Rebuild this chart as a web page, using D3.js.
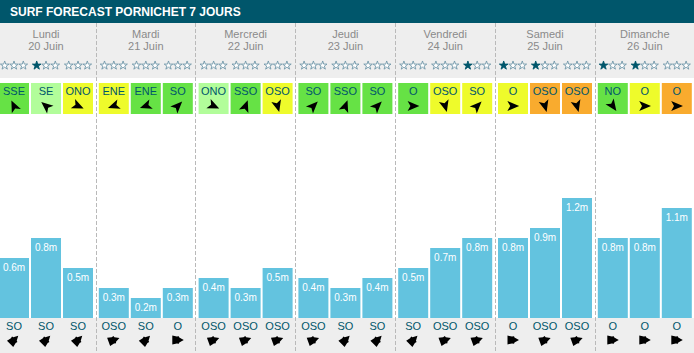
<!DOCTYPE html>
<html>
<head>
<meta charset="utf-8">
<script src="https://cdn.jsdelivr.net/npm/d3@7"></script>
<style>
  html, body { margin: 0; padding: 0; background: #fff; overflow: hidden; }
  text { font-family: "Liberation Sans", Arial, sans-serif; }
</style>
</head>
<body>
<div id="container"></div>
<script>
const title = 'SURF FORECAST PORNICHET 7 JOURS'
const dayNames = ['Lundi', 'Mardi', 'Mercredi', 'Jeudi', 'Vendredi', 'Samedi', 'Dimanche']
const dayDates = ['20 Juin', '21 Juin', '22 Juin', '23 Juin', '24 Juin', '25 Juin', '26 Juin']
const slots = [0, 1, 2]

// one row per day, one entry per slot
const stars = [[0, 1, 0], [0, 0, 0], [0, 0, 0], [0, 0, 0], [0, 0, 1], [1, 1, 0], [1, 1, 0]]
const windDir = [
    ['SSE', 'SE', 'ONO'], ['ENE', 'ENE', 'SO'], ['ONO', 'SSO', 'OSO'], ['SO', 'SSO', 'SO'],
    ['O', 'OSO', 'SO'], ['O', 'OSO', 'OSO'], ['NO', 'O', 'O']
]
// g = green, l = light green, y = yellow, o = orange
const windLevel = [
    ['g', 'l', 'y'], ['y', 'g', 'g'], ['l', 'g', 'y'], ['g', 'g', 'g'],
    ['g', 'y', 'y'], ['y', 'o', 'o'], ['g', 'y', 'o']
]
const waveHeight = [
    [0.6, 0.8, 0.5], [0.3, 0.2, 0.3], [0.4, 0.3, 0.5], [0.4, 0.3, 0.4],
    [0.5, 0.7, 0.8], [0.8, 0.9, 1.2], [0.8, 0.8, 1.1]
]
const swellDir = [
    ['SO', 'SO', 'SO'], ['OSO', 'SO', 'O'], ['OSO', 'OSO', 'OSO'], ['OSO', 'SO', 'SO'],
    ['SO', 'OSO', 'OSO'], ['O', 'OSO', 'OSO'], ['O', 'O', 'O']
]

const levelColor = { g: '#66e245', l: '#b2fd9a', y: '#eefb2b', o: '#f9ab2e' }
const windAngle = { SSE: -25, SE: -50, ONO: 115, ENE: -110, SO: 45, SSO: 20, OSO: 165, O: 90, NO: 145 }
const swellAngle = { SO: 45, OSO: 70, O: 90 }

const width = 694
const height = 353
const headerH = 23
const bandBottom = 78
const barBottom = 318
const dark = '#00566b'

const svg = d3.select('#container').append('svg')
    .attr('width', width).attr('height', height)
    .style('display', 'block')

const xDay = d3.scaleBand()
    .domain(d3.range(dayNames.length))
    .range([-1, 697.6])
const xSlot = d3.scaleBand()
    .domain(slots)
    .range([0, 94])
    .paddingInner(0.0625)
const yScale = d3.scaleLinear().domain([0, 1]).range([barBottom, barBottom - 100])

const starPath = d3.symbol(d3.symbolStar, 23)()
const windArrow = 'M0,-6.2 L5,5.6 L0,2.8 L-5,5.6 Z'
// narrow head, square body, small shoulders at the back
const swellArrow = 'M0,-6 L2.4,-1.5 L3.8,-1 L3.4,1 L4.4,5.5 L-4.4,5.5 L-3.4,1 L-3.8,-1 L-2.4,-1.5 Z'

// bands
svg.append('rect').attr('width', width).attr('height', bandBottom).attr('fill', '#eeeeee')
svg.append('rect').attr('y', barBottom).attr('width', width).attr('height', height - barBottom).attr('fill', '#eeeeee')
svg.append('rect').attr('width', width).attr('height', headerH).attr('fill', dark)
svg.append('text').attr('x', 10).attr('y', 15.5)
    .attr('fill', '#fff').attr('font-size', 12).attr('font-weight', 'bold')
    .text(title)

const days = svg.selectAll('g.day').data(d3.range(dayNames.length)).enter().append('g')
    .attr('class', 'day')
    .attr('transform', d => `translate(${xDay(d)},0)`)

days.append('text').attr('x', 47).attr('y', 38)
    .attr('text-anchor', 'middle').attr('fill', '#8a8a8a').attr('font-size', 11)
    .text(d => dayNames[d])
days.append('text').attr('x', 47).attr('y', 50)
    .attr('text-anchor', 'middle').attr('fill', '#8a8a8a').attr('font-size', 11)
    .text(d => dayDates[d])

const cells = days.selectAll('g.slot')
    .data(d => slots.map(s => ({ day: d, slot: s })))
    .enter().append('g')
    .attr('class', 'slot')
    .attr('transform', d => `translate(${xSlot(d.slot)},0)`)

const bw = xSlot.bandwidth()

// stars
cells.selectAll('path.star')
    .data(d => [0, 1, 2].map(i => ({ i, on: i < stars[d.day][d.slot] })))
    .enter().append('path')
    .attr('class', 'star')
    .attr('d', starPath)
    .attr('transform', d => `translate(${bw / 2 - 9.3 + d.i * 9.3},65.5)`)
    .attr('fill', d => d.on ? dark : '#fff')
    .attr('stroke', d => d.on ? dark : '#6f96a8')
    .attr('stroke-width', 0.9)

// wind cell
cells.append('rect')
    .attr('y', 83).attr('width', bw).attr('height', 31)
    .attr('fill', d => levelColor[windLevel[d.day][d.slot]])
cells.append('text')
    .attr('x', bw / 2).attr('y', 95)
    .attr('text-anchor', 'middle').attr('fill', dark).attr('font-size', 11)
    .text(d => windDir[d.day][d.slot])
cells.append('path')
    .attr('d', windArrow)
    .attr('fill', '#000')
    .attr('transform', d => `translate(${bw / 2},106) rotate(${windAngle[windDir[d.day][d.slot]]})`)

// wave bars
cells.append('rect')
    .attr('y', d => yScale(waveHeight[d.day][d.slot]))
    .attr('width', bw)
    .attr('height', d => barBottom - yScale(waveHeight[d.day][d.slot]))
    .attr('fill', '#63c3df')
cells.append('text')
    .attr('x', bw / 2)
    .attr('y', d => yScale(waveHeight[d.day][d.slot]) + 13)
    .attr('text-anchor', 'middle').attr('fill', '#fff').attr('font-size', 10)
    .text(d => waveHeight[d.day][d.slot] + 'm')

// swell
cells.append('text')
    .attr('x', bw / 2).attr('y', 330)
    .attr('text-anchor', 'middle').attr('fill', dark).attr('font-size', 11)
    .text(d => swellDir[d.day][d.slot])
cells.append('path')
    .attr('d', swellArrow)
    .attr('fill', '#000')
    .attr('transform', d => `translate(${bw / 2},340) rotate(${swellAngle[swellDir[d.day][d.slot]]})`)

// day separators
svg.selectAll('line.sep').data(d3.range(1, dayNames.length)).enter().append('line')
    .attr('class', 'sep')
    .attr('x1', d => Math.round(xDay(d) - 3.3) + 0.5)
    .attr('x2', d => Math.round(xDay(d) - 3.3) + 0.5)
    .attr('y1', headerH).attr('y2', height)
    .attr('stroke', '#b9b9b9').attr('stroke-dasharray', '4,2')
</script>
</body>
</html>
